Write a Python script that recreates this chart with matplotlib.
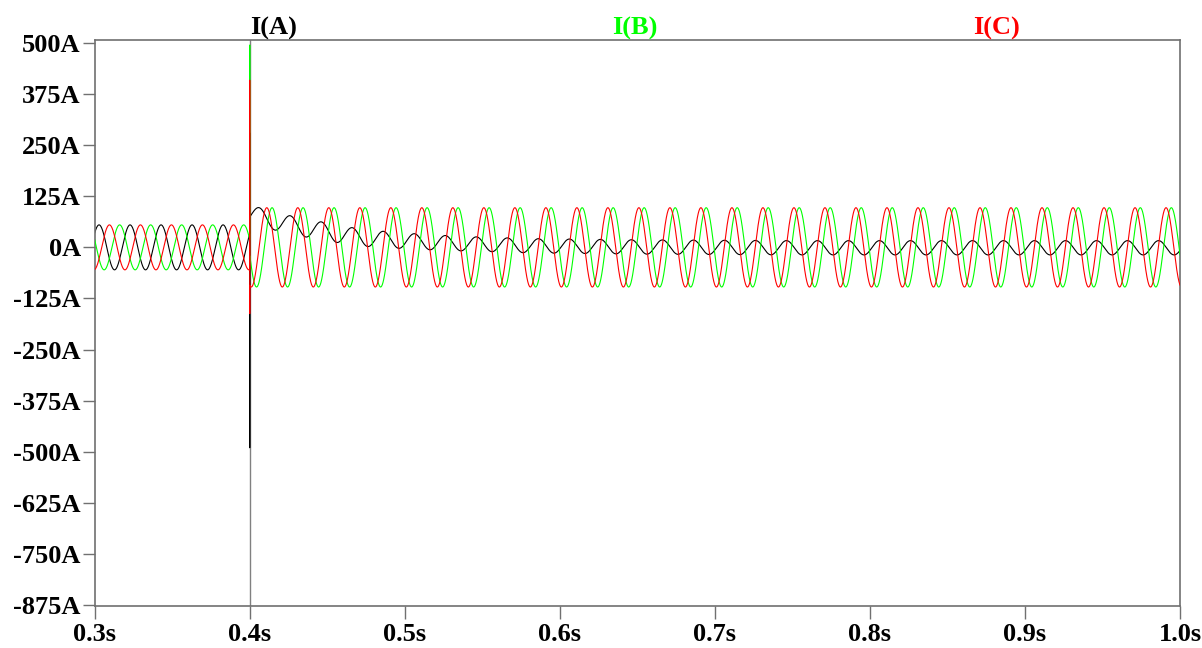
import numpy as np
import matplotlib.pyplot as plt

# time window and fault instant (s)
t_start, t_end = 0.3, 1.0
t_fault = 0.4
freq = 50.0

phase_names = ['I(A)', 'I(B)', 'I(C)']
phase_colors = ['#000000', '#00ff00', '#ff0000']
title_x = [274, 635, 996]  # label centres, pixels

# before the fault: crest amplitude (A) and time of one crest (s)
pre_amp = [55, 55, 55]
pre_peak = [0.3028, 0.3161, 0.3095]

# after the fault: B and C crest amplitude and crest time
post_amp = [0, 97, 97]
post_peak = [0.4062, 0.4144, 0.4110]

# phase A after the fault: decaying offset and swing read per half cycle
a_dc_t = [0.4005, 0.411, 0.431, 0.451, 0.471, 0.491, 0.511, 0.53, 0.58, 0.65, 0.75, 1.0]
a_dc = [82, 69, 51, 37, 24, 18, 13.5, 10, 4, 1, -1, -1]
a_amp_t = [0.4005, 0.45, 0.50, 0.55, 0.65, 1.0]
a_amp = [22, 22, 19, 17.5, 17.5, 17.5]

# switching spike at the fault instant (low, high) per phase
spike_lo = [-490, -30, -162]
spike_hi = [280, 495, 409]

yticks = [500, 375, 250, 125, 0, -125, -250, -375, -500, -625, -750, -875]
xticks = [0.3, 0.4, 0.5, 0.6, 0.7, 0.8, 0.9, 1.0]

w = 2 * np.pi * freq
t_pre = np.arange(t_start, t_fault, 0.0001)
t_post = np.arange(t_fault + 0.0001, t_end + 0.00005, 0.0001)


def phase_wave(i):
    pre = pre_amp[i] * np.cos(w * (t_pre - pre_peak[i]))
    if i == 0:
        dc = np.interp(t_post, a_dc_t, a_dc)
        amp = np.interp(t_post, a_amp_t, a_amp)
        post = dc + amp * np.cos(w * (t_post - post_peak[i]))
    else:
        post = post_amp[i] * np.cos(w * (t_post - post_peak[i]))
    t = np.concatenate([t_pre, [t_fault, t_fault, t_fault], t_post])
    y = np.concatenate([pre, [spike_hi[i], spike_lo[i], post[0]], post])
    return t, y


fig = plt.figure(figsize=(12.02, 6.48), dpi=100)
ax = fig.add_axes([94.7 / 1202, 42 / 648, 1085.3 / 1202, 566 / 648])

ax.axvline(t_fault, color='#808080', lw=1.0, zorder=1)
for i in range(3):
    t, y = phase_wave(i)
    ax.plot(t, y, color=phase_colors[i], lw=0.8, zorder=2 + i)

ax.set_xlim(t_start, t_end)
ax.set_ylim(-877.4, 507.3)
ax.set_xticks(xticks)
ax.set_yticks(yticks)
ax.set_xticklabels(['{:.1f}s'.format(v) for v in xticks])
ax.set_yticklabels(['{:g}A'.format(v) for v in yticks])

font = {'family': 'Liberation Serif', 'weight': 'bold', 'size': 19}
for lab in ax.get_xticklabels() + ax.get_yticklabels():
    lab.set_fontproperties(font)
ax.tick_params(axis='both', direction='out', length=9, width=1.0, color='#707070')
ax.tick_params(axis='y', pad=1)
ax.tick_params(axis='x', pad=3)
for sp in ax.spines.values():
    sp.set_color('#707070')
    sp.set_linewidth(1.2)

for i in range(3):
    fig.text(title_x[i] / 1202, 1 - 28 / 648, phase_names[i], color=phase_colors[i],
             ha='center', va='center', fontdict=font)

fig.savefig('out.png', dpi=100)
